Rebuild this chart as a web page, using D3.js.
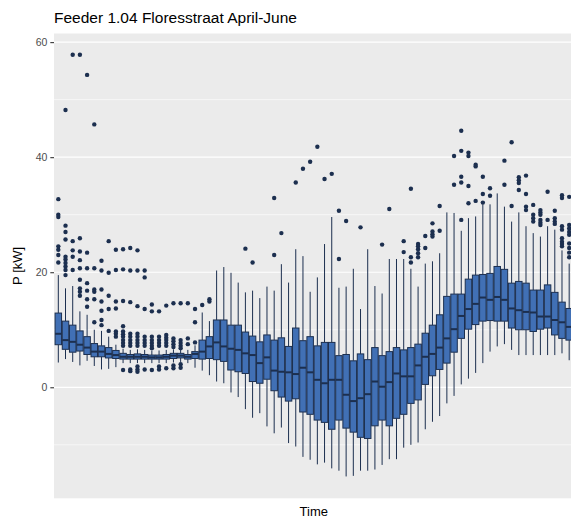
<!DOCTYPE html>
<html>
<head>
<meta charset="utf-8">
<script src="https://cdn.jsdelivr.net/npm/d3@7"></script>
<style>
  body { margin: 0; background: #fff; }
  svg { display: block; font-family: "Liberation Sans", Arial, sans-serif; }
</style>
</head>
<body>
<svg id="chart" width="571" height="522"></svg>
<script>
// 20-minute slots over the day
const slots = d3.range(72).map(i => {
  const m = i * 20;
  return String(Math.floor(m / 60)).padStart(2, "0") + ":" + String(m % 60).padStart(2, "0");
});

const whiskerLow = [4.3, 4.9, 4.4, 3.8, 4.6, 3.7, 3.1, 3.2, 3.5, 4.2, 4.2, 4.2, 4.2, 4.2, 4.2, 4.2, 4.3, 4.4, 4.2, 3.4,
  2.9, 2.1, 1.0, 0.7, -0.9, -1.7, -3.8, -5.3, -4.5, -6.8, -8.0, -7.0, -9.7, -10.3, -12.1, -12.6, -13.4, -13.1, -14.1, -14.5,
  -15.5, -15.4, -14.5, -14.5, -14.3, -13.5, -12.5, -12.5, -10.5, -10.0, -9.6, -7.3, -6.0, -5.0, -2.8, -1.5, 0.5, 1.5, 2.5, 4.2,
  6.2, 7.1, 7.5, 6.5, 5.6, 5.6, 5.6, 5.6, 5.6, 5.6, 5.9, 4.7];
const q1 = [7.4, 6.6, 6.1, 6.3, 5.7, 5.3, 5.3, 5.1, 5.0, 4.9, 4.9, 4.9, 4.9, 4.9, 4.9, 4.9, 5.0, 5.1, 4.9, 5.0,
  4.9, 5.0, 4.8, 4.5, 3.0, 2.7, 2.4, 1.0, 0.7, 1.4, -0.6, -1.7, -2.4, -2.0, -4.3, -4.7, -5.7, -6.1, -7.3, -5.7,
  -7.1, -7.8, -8.7, -8.9, -6.7, -5.7, -6.7, -5.4, -4.7, -2.8, -2.2, 0.5, 2.0, 3.1, 4.2, 6.1, 8.5, 10.1, 10.9, 11.5,
  11.6, 11.5, 11.5, 10.3, 10.0, 10.0, 9.7, 10.1, 10.3, 9.1, 8.5, 8.2];
const median = [9.3, 8.2, 7.9, 7.4, 6.9, 6.2, 6.2, 5.8, 5.6, 5.3, 5.3, 5.3, 5.3, 5.2, 5.2, 5.3, 5.5, 5.5, 5.3, 5.8,
  6.2, 7.1, 7.8, 7.1, 6.7, 6.5, 5.9, 5.6, 4.2, 5.2, 2.9, 2.7, 2.6, 2.3, 3.4, 2.6, 1.3, 0.7, 1.3, 1.3,
  -1.3, -2.4, -1.9, -1.2, 1.0, 0.1, 0.9, 2.4, 1.9, 1.9, 3.8, 5.3, 5.8, 6.9, 8.5, 10.1, 12.4, 13.6, 14.5, 15.6,
  15.2, 15.7, 15.2, 13.7, 13.4, 13.1, 13.0, 12.3, 12.3, 11.7, 11.3, 10.5];
const q3 = [12.9, 11.5, 10.8, 9.8, 8.8, 7.6, 7.2, 6.9, 6.4, 5.9, 5.7, 5.8, 5.7, 5.6, 5.6, 5.7, 5.9, 5.9, 5.7, 6.2,
  8.2, 8.8, 11.7, 11.7, 10.8, 10.8, 9.6, 8.9, 7.9, 9.1, 8.2, 8.6, 7.1, 10.3, 8.1, 8.8, 7.2, 7.8, 7.8, 5.5,
  5.7, 4.6, 5.8, 4.8, 6.9, 5.5, 6.2, 6.9, 6.5, 6.9, 7.5, 9.4, 10.8, 12.6, 15.8, 16.2, 16.2, 18.8, 19.5, 19.6,
  19.8, 21.0, 20.5, 18.1, 18.4, 18.1, 16.9, 16.9, 17.8, 16.5, 14.8, 13.7];
const whiskerHigh = [19.5, 17.2, 17.6, 13.2, 12.6, 10.0, 9.8, 8.8, 7.4, 6.7, 6.5, 6.6, 6.5, 6.4, 6.4, 6.5, 6.6, 6.6, 6.5, 7.3,
  13.0, 11.5, 20.3, 20.9, 19.9, 18.2, 16.5, 16.8, 15.5, 17.5, 16.8, 21.4, 18.2, 24.0, 22.8, 16.6, 19.1, 24.9, 29.6, 17.3,
  17.5, 20.6, 13.6, 24.0, 17.6, 16.3, 22.3, 22.3, 22.3, 20.6, 17.5, 21.5, 21.9, 23.3, 30.4, 30.3, 27.2, 29.4, 29.7, 31.8,
  31.8, 33.7, 31.4, 28.8, 30.4, 28.0, 26.8, 26.2, 28.0, 27.4, 23.8, 21.5];
const outliers = [
  [32.7, 30.0, 29.6, 24.5, 23.9, 23.0, 21.7],
  [48.2, 28.1, 27.0, 25.7, 22.7, 22.2, 21.6, 21.0, 20.4, 19.5],
  [57.8, 25.4, 23.8, 22.7, 20.4],
  [57.8, 25.9, 23.6, 22.1, 20.7, 18.7, 17.2, 16.6, 15.9],
  [54.3, 23.4, 20.7, 18.1, 16.8, 15.3, 14.0],
  [45.7, 20.7, 17.0, 16.6, 15.3, 11.3],
  [22.0, 20.3, 17.0, 14.9, 13.3, 11.7, 10.8],
  [25.4, 19.9, 15.9, 13.6, 9.8],
  [23.9, 20.4, 14.9, 13.7, 9.7, 9.3, 8.8],
  [24.0, 20.5, 15.0, 10.6, 9.7, 9.2, 8.8, 8.2, 7.7, 7.2, 3.0],
  [24.2, 20.3, 14.8, 9.3, 8.8, 8.2, 7.7, 7.2, 3.1, 2.8],
  [23.8, 20.3, 14.1, 9.3, 8.8, 8.2, 7.7, 7.2, 3.6, 3.1, 2.7],
  [20.3, 19.1, 13.6, 8.8, 8.2, 7.7, 7.2, 3.1],
  [14.4, 13.2, 8.8, 8.2, 7.7, 7.2, 6.8, 3.0],
  [13.2, 8.8, 8.2, 7.7, 7.2, 3.6, 3.1],
  [14.2, 9.1, 8.6, 8.2, 7.7, 7.2, 3.3],
  [14.6, 8.5, 8.0, 7.5, 7.0, 3.8, 3.3],
  [14.6, 8.2, 7.7, 7.2, 6.8, 4.0, 3.4],
  [14.6, 8.5, 7.5],
  [13.6, 11.3, 7.8],
  [14.3],
  [15.3, 14.9],
  [], [], [], [],
  [24.1],
  [21.7],
  [], [],
  [32.9, 23.0],
  [26.8],
  [],
  [35.6],
  [38.0],
  [39.2],
  [41.8],
  [36.2],
  [37.1],
  [30.7, 22.3],
  [28.9],
  [],
  [27.8],
  [], [],
  [24.8],
  [31.0],
  [],
  [25.4, 23.5],
  [34.5, 22.6, 21.7],
  [24.9, 24.5, 24.0, 23.3, 22.6],
  [26.3, 24.2],
  [28.5, 27.1, 26.6, 26.2],
  [31.5, 27.2],
  [],
  [40.2, 35.2],
  [44.6, 41.1, 36.6, 35.6, 29.1],
  [40.8, 40.2, 35.0, 32.0],
  [38.7, 38.4, 32.4],
  [36.6, 33.6, 32.1],
  [34.6, 33.3],
  [],
  [39.4, 35.2],
  [42.6, 31.5],
  [36.5, 36.0, 35.5, 34.3],
  [36.8, 33.6, 31.4, 30.8],
  [31.7, 30.0, 29.4, 28.8],
  [30.8, 30.4, 30.0, 29.1, 28.6, 28.2],
  [34.0, 29.1],
  [30.7, 29.4, 28.8, 28.4],
  [33.4, 32.9, 28.0, 27.4, 25.9, 25.3, 24.9, 24.5],
  [33.1, 28.2, 27.6, 27.0, 26.5, 25.0, 24.2, 23.4, 22.6]
];
const yMajor = [0, 20, 40, 60];
const yMinor = [-10, 10, 30, 50];

const boxes = slots.map((s, i) => ({
  slot: s, lo: whiskerLow[i], q1: q1[i], med: median[i], q3: q3[i], hi: whiskerHigh[i], out: outliers[i]
}));

const svg = d3.select("#chart");
const margin = { top: 33.5, right: -2.5, bottom: 23.7, left: 54 };
const width = 571 - margin.left - margin.right;
const height = 522 - margin.top - margin.bottom;

const x = d3.scalePoint().domain(slots).range([0, width]).padding(0.6);
const y = d3.scaleLinear().domain([-19.3, 61.5]).range([height, 0]);
const boxW = x.step() * 0.9;

const fill = "#4170b5", ink = "#1c2f4f";

svg.append("text").attr("x", margin.left).attr("y", 23)
  .attr("font-size", 15.5).attr("fill", "#000").text("Feeder 1.04 Floresstraat April-June");

const g = svg.append("g").attr("transform", "translate(" + margin.left + "," + margin.top + ")");

g.append("rect").attr("width", width).attr("height", height).attr("fill", "#ebebeb");

g.selectAll(".minor").data(yMinor).enter().append("line")
  .attr("x1", 0).attr("x2", width).attr("y1", d => y(d)).attr("y2", d => y(d))
  .attr("stroke", "#fff").attr("stroke-width", 0.6);
g.selectAll(".major").data(yMajor).enter().append("line")
  .attr("x1", 0).attr("x2", width).attr("y1", d => y(d)).attr("y2", d => y(d))
  .attr("stroke", "#fff").attr("stroke-width", 1.2);

const yAxis = g.append("g").call(d3.axisLeft(y).tickValues(yMajor).tickSize(3.7).tickPadding(3));
yAxis.select(".domain").remove();
yAxis.selectAll(".tick line").attr("stroke", "#333").attr("stroke-width", 1.1);
yAxis.selectAll(".tick text").attr("fill", "#4d4d4d").attr("font-size", 10.5)
  .attr("font-family", "Liberation Sans, Arial, sans-serif");

const b = g.selectAll(".box").data(boxes).enter().append("g")
  .attr("transform", d => "translate(" + x(d.slot) + ",0)");

b.append("line").attr("y1", d => y(d.hi)).attr("y2", d => y(d.q3))
  .attr("stroke", ink).attr("stroke-width", 1);
b.append("line").attr("y1", d => y(d.q1)).attr("y2", d => y(d.lo))
  .attr("stroke", ink).attr("stroke-width", 1);
b.append("rect").attr("x", -boxW / 2).attr("width", boxW)
  .attr("y", d => y(d.q3)).attr("height", d => y(d.q1) - y(d.q3))
  .attr("fill", fill).attr("stroke", ink).attr("stroke-width", 1);
b.append("line").attr("x1", -boxW / 2).attr("x2", boxW / 2)
  .attr("y1", d => y(d.med)).attr("y2", d => y(d.med))
  .attr("stroke", ink).attr("stroke-width", 2);
b.selectAll("circle").data(d => d.out).enter().append("circle")
  .attr("cy", d => y(d)).attr("r", 2.2).attr("fill", ink);

svg.append("text").attr("x", margin.left + width / 2).attr("y", 516)
  .attr("text-anchor", "middle").attr("font-size", 13).text("Time");
svg.append("text").attr("transform", "translate(22," + (margin.top + height / 2) + ") rotate(-90)")
  .attr("text-anchor", "middle").attr("font-size", 13).text("P [kW]");
</script>
</body>
</html>
